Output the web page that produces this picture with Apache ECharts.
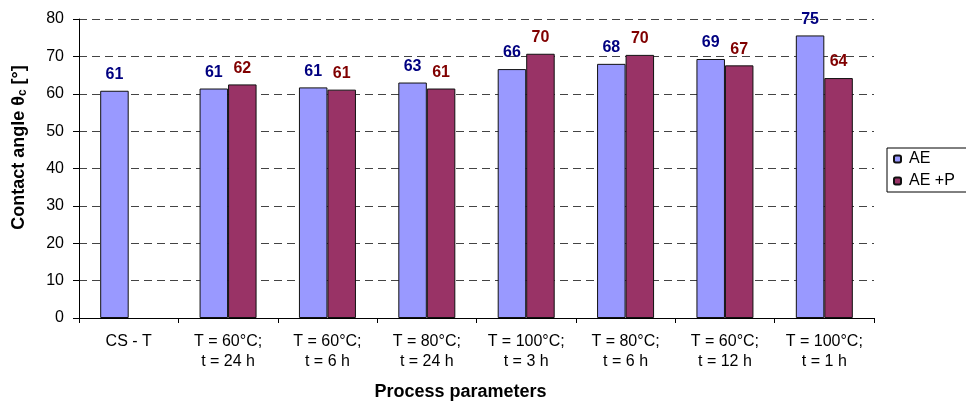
<!DOCTYPE html>
<html>
<head>
<meta charset="utf-8">
<script src="https://cdn.jsdelivr.net/npm/echarts@6/dist/echarts.min.js"></script>
<style>
  html, body { margin: 0; padding: 0; background: #fff; }
  #chart { width: 966px; height: 401px; }
</style>
</head>
<body>
<div id="chart"></div>
<script>
// categories (process parameters)
const categories = [
  'CS - T',
  'T = 60°C;\nt = 24 h',
  'T = 60°C;\nt = 6 h',
  'T = 80°C;\nt = 24 h',
  'T = 100°C;\nt = 3 h',
  'T = 80°C;\nt = 6 h',
  'T = 60°C;\nt = 12 h',
  'T = 100°C;\nt = 1 h'
];

// bar heights
const aeValues  = [60.8, 61.4, 61.7, 63.0, 66.6, 68.0, 69.3, 75.6];
const aepValues = [null, 62.5, 61.1, 61.4, 70.7, 70.4, 67.6, 64.2];

// printed value labels
const aeLabels  = ['61', '61', '61', '63', '66', '68', '69', '75'];
const aepLabels = ['', '62', '61', '61', '70', '70', '67', '64'];

const yTicks = [0, 10, 20, 30, 40, 50, 60, 70, 80];

const FONT = '"Liberation Sans", Arial, sans-serif';

const chart = echarts.init(document.getElementById('chart'));

const option = {
  animation: false,
  textStyle: { fontFamily: FONT },
  grid: { left: 79, right: 92, top: 19, bottom: 83, outerBoundsMode: 'none' },
  legend: {
    orient: 'vertical',
    left: 887,
    top: 148,
    itemWidth: 7,
    itemHeight: 7,
    itemGap: 6,
    padding: [3, 40, 3, 6],
    borderColor: '#000',
    borderWidth: 1,
    textStyle: { fontFamily: FONT, fontSize: 16, color: '#000', padding: [0, 0, 0, 3] },
    data: ['AE', 'AE +P']
  },
  xAxis: {
    type: 'category',
    data: categories,
    name: 'Process parameters',
    nameLocation: 'middle',
    nameGap: 65,
    nameTextStyle: {
      fontFamily: FONT, fontSize: 18, fontWeight: 'bold', color: '#000',
      padding: [0, 32, 0, 0]
    },
    axisLine: { lineStyle: { color: '#000', width: 1 } },
    axisTick: { show: true, length: 5, lineStyle: { color: '#000' } },
    axisLabel: {
      interval: 0,
      margin: 14,
      fontFamily: FONT,
      fontSize: 16,
      lineHeight: 20,
      color: '#000'
    }
  },
  yAxis: {
    type: 'value',
    min: yTicks[0],
    max: yTicks[yTicks.length - 1],
    interval: 10,
    name: '{a|Contact angle θ}{s|c}{a| [°]}',
    nameLocation: 'middle',
    nameGap: 50,
    nameRotate: 90,
    nameTextStyle: {
      padding: [0, 0, 0, 42],
      rich: {
        a: { fontFamily: FONT, fontSize: 18, fontWeight: 'bold', color: '#000' },
        s: { fontFamily: FONT, fontSize: 12, fontWeight: 'bold', color: '#000', verticalAlign: 'bottom', padding: [7, 0, 0, 0] }
      }
    },
    axisLine: { show: true, lineStyle: { color: '#000', width: 1 } },
    axisTick: { show: true, length: 6, lineStyle: { color: '#000' } },
    axisLabel: { margin: 15, fontFamily: FONT, fontSize: 16, color: '#000' },
    splitLine: { lineStyle: { color: '#444', type: [8, 5], width: 1 } }
  },
  series: [
    {
      name: 'AE',
      type: 'bar',
      data: aeValues,
      barWidth: 28.5,
      barGap: '0%',
      itemStyle: { color: '#9999FF', borderColor: '#111', borderWidth: 1 },
      label: {
        show: true,
        position: 'top',
        distance: 8,
        fontFamily: FONT,
        fontSize: 16,
        fontWeight: 'bold',
        color: '#000080',
        formatter: p => aeLabels[p.dataIndex]
      }
    },
    {
      name: 'AE +P',
      type: 'bar',
      data: aepValues,
      barWidth: 28.5,
      barGap: '0%',
      itemStyle: { color: '#993366', borderColor: '#111', borderWidth: 1 },
      label: {
        show: true,
        position: 'top',
        distance: 8,
        fontFamily: FONT,
        fontSize: 16,
        fontWeight: 'bold',
        color: '#800000',
        formatter: p => aepLabels[p.dataIndex]
      }
    }
  ]
};

chart.setOption(option);
window.addEventListener('resize', () => {
  chart.resize();
});
</script>
</body>
</html>
